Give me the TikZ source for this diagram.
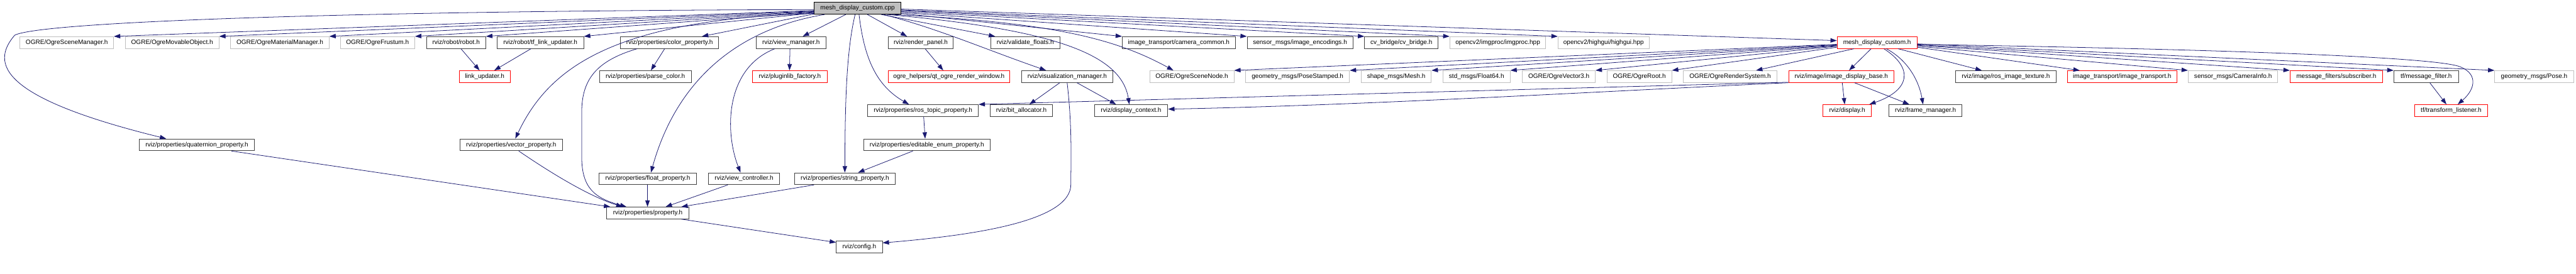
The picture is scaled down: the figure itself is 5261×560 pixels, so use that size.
\documentclass[tikz,border=0pt]{standalone}
\usepackage{fontspec}
\setmainfont{Liberation Sans}
\usetikzlibrary{arrows.meta,calc}
\definecolor{edgeblue}{HTML}{191970}
\definecolor{boxgray}{HTML}{BFBFBF}
\definecolor{boxdark}{HTML}{404040}
\newcommand\mknode[6]{\node[#2, minimum width={(#4-#3)*1pt}] (#1) at ({(#3+#4)/2},#5) {#6};}
\tikzset{
  basebox/.style={rectangle, inner sep=0pt, minimum height=24pt, line width=1.2pt,
    font=\fontsize{12.9}{15}\selectfont, text height=9.4pt, text depth=2.8pt},
  blkbox/.style={basebox, draw=boxdark},
  grybox/.style={basebox, draw=boxgray},
  redbox/.style={basebox, draw=red},
  rootbox/.style={basebox, draw=black, fill=boxgray},
  edge/.style={draw=edgeblue, line width=1pt, -{Triangle[length=13pt,width=9pt]}}
}
\begin{document}
\begin{tikzpicture}[x=1pt,y=-1pt]
\useasboundingbox (0,0) rectangle (5261,560);
% row 0
\mknode{root}{rootbox}{1663}{1840}{17}{mesh\_display\_custom.cpp}
% row 1
\mknode{sceneMgr}{grybox}{41}{232}{87}{OGRE/OgreSceneManager.h}
\mknode{movable}{grybox}{256}{447}{87}{OGRE/OgreMovableObject.h}
\mknode{material}{grybox}{471}{672}{87}{OGRE/OgreMaterialManager.h}
\mknode{frustum}{grybox}{695}{847}{87}{OGRE/OgreFrustum.h}
\mknode{robot}{blkbox}{871}{992}{87}{rviz/robot/robot.h}
\mknode{tflink}{blkbox}{1015}{1192}{87}{rviz/robot/tf\_link\_updater.h}
\mknode{colorprop}{blkbox}{1267}{1468}{87}{rviz/properties/color\_property.h}
\mknode{viewmgr}{blkbox}{1544}{1687}{87}{rviz/view\_manager.h}
\mknode{renderpanel}{blkbox}{1814}{1947}{87}{rviz/render\_panel.h}
\mknode{validate}{blkbox}{2023}{2165}{87}{rviz/validate\_floats.h}
\mknode{camcommon}{blkbox}{2292}{2523}{87}{image\_transport/camera\_common.h}
\mknode{imgenc}{blkbox}{2547}{2763}{87}{sensor\_msgs/image\_encodings.h}
\mknode{cvbridge}{blkbox}{2787}{2937}{87}{cv\_bridge/cv\_bridge.h}
\mknode{imgproc}{grybox}{2961}{3157}{87}{opencv2/imgproc/imgproc.hpp}
\mknode{highgui}{grybox}{3182}{3368}{87}{opencv2/highgui/highgui.hpp}
\mknode{mdch}{redbox}{3752}{3915}{87}{mesh\_display\_custom.h}
% row 2
\mknode{linkupd}{redbox}{938}{1042}{156.5}{link\_updater.h}
\mknode{parsecolor}{blkbox}{1224}{1412}{156.5}{rviz/properties/parse\_color.h}
\mknode{plugin}{redbox}{1537}{1689}{156.5}{rviz/pluginlib\_factory.h}
\mknode{qtogre}{redbox}{1814}{2062}{156.5}{ogre\_helpers/qt\_ogre\_render\_window.h}
\mknode{vismgr}{blkbox}{2086}{2273}{156.5}{rviz/visualization\_manager.h}
\mknode{scenenode}{grybox}{2348}{2520}{156.5}{OGRE/OgreSceneNode.h}
\mknode{posestamped}{grybox}{2544}{2756}{156.5}{geometry\_msgs/PoseStamped.h}
\mknode{mesh}{grybox}{2780}{2923}{156.5}{shape\_msgs/Mesh.h}
\mknode{float64}{grybox}{2947}{3084}{156.5}{std\_msgs/Float64.h}
\mknode{vector3}{grybox}{3109}{3258}{156.5}{OGRE/OgreVector3.h}
\mknode{ogreroot}{grybox}{3282}{3414}{156.5}{OGRE/OgreRoot.h}
\mknode{rendersys}{grybox}{3438}{3629}{156.5}{OGRE/OgreRenderSystem.h}
\mknode{imgbase}{redbox}{3653}{3868}{156.5}{rviz/image/image\_display\_base.h}
\mknode{rosimgtex}{blkbox}{3994}{4199}{156.5}{rviz/image/ros\_image\_texture.h}
\mknode{imgtrans}{redbox}{4222}{4446}{156.5}{image\_transport/image\_transport.h}
\mknode{caminfo}{grybox}{4469}{4652}{156.5}{sensor\_msgs/CameraInfo.h}
\mknode{subscriber}{redbox}{4677}{4866}{156.5}{message\_filters/subscriber.h}
\mknode{msgfilter}{blkbox}{4889}{5021}{156.5}{tf/message\_filter.h}
\mknode{pose}{grybox}{5095}{5256}{156.5}{geometry\_msgs/Pose.h}
% row 3
\mknode{rostopic}{blkbox}{1772}{1998}{226}{rviz/properties/ros\_topic\_property.h}
\mknode{bitalloc}{blkbox}{2022}{2150}{226}{rviz/bit\_allocator.h}
\mknode{dispctx}{blkbox}{2235}{2385}{226}{rviz/display\_context.h}
\mknode{display}{redbox}{3723}{3822}{226}{rviz/display.h}
\mknode{framemgr}{blkbox}{3858}{4007}{226}{rviz/frame\_manager.h}
\mknode{tflistener}{redbox}{4931}{5081}{226}{tf/transform\_listener.h}
% row 4
\mknode{quat}{blkbox}{285}{519}{296}{rviz/properties/quaternion\_property.h}
\mknode{vecprop}{blkbox}{939}{1149}{296}{rviz/properties/vector\_property.h}
\mknode{editenum}{blkbox}{1764}{2022}{296}{rviz/properties/editable\_enum\_property.h}
% row 5
\mknode{floatprop}{blkbox}{1223}{1423}{365.3}{rviz/properties/float\_property.h}
\mknode{viewctrl}{blkbox}{1447}{1592}{365.3}{rviz/view\_controller.h}
\mknode{stringprop}{blkbox}{1623}{1828}{365.3}{rviz/properties/string\_property.h}
% row 6
\mknode{property}{blkbox}{1239}{1407}{435.3}{rviz/properties/property.h}
% row 7
\mknode{config}{blkbox}{1708}{1802}{505}{rviz/config.h}

% ---- edges from root, left side
\draw[edge] ($(root.south west)+(0,-10)$) .. controls (700,22) and (80,45) .. (30,72)
   .. controls (-20,130) and (0,200) .. ($(quat.north west)+(55,0)$);
\draw[edge] ($(root.south west)+(0,-8)$) -- (sceneMgr.north east);
\draw[edge] ($(root.south west)+(0,-7)$) -- (movable.north east);
\draw[edge] ($(root.south west)+(0,-6)$) -- (material.north east);
\draw[edge] ($(root.south west)+(0,-5)$) -- (frustum.north east);
\draw[edge] ($(root.south west)+(0,-4)$) -- (robot.north east);
\draw[edge] ($(root.south west)+(0,-3)$) -- (tflink.north east);
\draw[edge] ($(root.south west)+(0,-2)$) .. controls (1250,40) and (1120,140) .. ($(vecprop.north west)+(114,0)$);
\draw[edge] ($(root.south west)+(0,-1)$) -- ($(colorprop.north east)+(-35,0)$);
\draw[edge] ($(root.south west)+(22,0)$) .. controls (1500,60) and (1380,170) .. ($(floatprop.north west)+(107,0)$);
\draw[edge] ($(root.south west)+(65,0)$) -- ($(viewmgr.north west)+(96,0)$);
\draw[edge] ($(root.south west)+(84,0)$) .. controls (1727,110) and (1726,230) .. ($(stringprop.north west)+(103,0)$);
\draw[edge] ($(root.south west)+(92,0)$) .. controls (1765,120) and (1790,175) .. ($(rostopic.north west)+(85,0)$);
\draw[edge] ($(root.south west)+(109,0)$) -- ($(renderpanel.north west)+(39,0)$);
\draw[edge] ($(root.south west)+(137,0)$) -- ($(validate.north west)+(10,0)$);
\draw[edge] ($(root.south west)+(142,0)$) .. controls (1920,60) and (2010,100) .. ($(vismgr.north west)+(51,0)$);
\draw[edge] ($(root.south west)+(149,0)$) .. controls (2150,60) and (2290,110) .. ($(dispctx.north west)+(72,0)$);
\draw[edge] ($(root.south west)+(157,0)$) .. controls (2150,45) and (2280,80) .. ($(scenenode.north west)+(49,0)$);
% root, right side
\draw[edge] ($(root.south east)+(0,-2)$) -- (camcommon.north west);
\draw[edge] ($(root.south east)+(0,-4)$) -- (imgenc.north west);
\draw[edge] ($(root.south east)+(0,-6)$) -- (cvbridge.north west);
\draw[edge] ($(root.south east)+(0,-8)$) -- (imgproc.north west);
\draw[edge] ($(root.south east)+(0,-9)$) -- (highgui.north west);
\draw[edge] ($(root.south east)+(0,-11)$) -- ($(mdch.west)+(0,-4)$);

% ---- robot / properties
\draw[edge] ($(robot.south west)+(71,0)$) -- ($(linkupd.north west)+(42,0)$);
\draw[edge] ($(tflink.south west)+(70,0)$) -- ($(linkupd.north west)+(72,0)$);
\draw[edge] ($(colorprop.south west)+(91,0)$) -- ($(parsecolor.north west)+(106,0)$);
\draw[edge] ($(colorprop.south west)+(35,0)$) .. controls (1215,125) and (1188,165) .. (1188,230)
   -- (1188,320) .. controls (1188,385) and (1215,405) .. ($(property.north west)+(41,0)$);
\draw[edge] ($(vecprop.south west)+(121,0)$) .. controls (1120,350) and (1200,400) .. ($(property.north west)+(33,0)$);
\draw[edge] ($(quat.south west)+(188,0)$) -- ($(property.north west)+(8,0)$);
\draw[edge] ($(floatprop.south west)+(100,0)$) -- ($(property.north west)+(84,0)$);
\draw[edge] ($(viewctrl.south west)+(40,0)$) -- ($(property.north west)+(121,0)$);
\draw[edge] ($(stringprop.south west)+(40,0)$) -- ($(property.north west)+(153,0)$);
\draw[edge] ($(property.south west)+(153,0)$) -- ($(config.north west)+(0,3)$);
\draw[edge] ($(viewmgr.south west)+(70,0)$) -- ($(plugin.north west)+(76,0)$);
\draw[edge] ($(viewmgr.south west)+(39,0)$) .. controls (1480,140) and (1480,270) .. ($(viewctrl.north west)+(66,0)$);
\draw[edge] ($(renderpanel.south west)+(76,0)$) -- ($(qtogre.north west)+(113,0)$);
\draw[edge] ($(rostopic.south west)+(115,0)$) -- ($(editenum.north west)+(126,0)$);
\draw[edge] ($(editenum.south west)+(101,0)$) -- ($(stringprop.north west)+(130,0)$);
\draw[edge] ($(vismgr.south west)+(79,0)$) -- ($(bitalloc.north west)+(81,0)$);
\draw[edge] ($(vismgr.south west)+(114,0)$) -- ($(dispctx.north west)+(45,0)$);
\draw[edge] ($(vismgr.south west)+(94,0)$) .. controls (2190,260) and (2187,330) .. (2187,377)
   .. controls (2187,450) and (2000,480) .. ($(config.north east)+(0,4)$);

% ---- mesh_display_custom.h
\draw[edge] ($(mdch.south west)+(0,-9)$) -- (scenenode.north east);
\draw[edge] ($(mdch.south west)+(0,-8)$) -- (posestamped.north east);
\draw[edge] ($(mdch.south west)+(0,-7)$) -- (mesh.north east);
\draw[edge] ($(mdch.south west)+(0,-6)$) -- (float64.north east);
\draw[edge] ($(mdch.south west)+(0,-5)$) -- (vector3.north east);
\draw[edge] ($(mdch.south west)+(0,-3)$) -- (ogreroot.north east);
\draw[edge] ($(mdch.south west)+(35,0)$) -- ($(rendersys.north west)+(149,0)$);
\draw[edge] ($(mdch.south west)+(70,0)$) -- ($(imgbase.north west)+(124,0)$);
\draw[edge] ($(mdch.south west)+(96,0)$) .. controls (3910,140) and (3900,185) .. ($(display.north east)+(-5,0)$);
\draw[edge] ($(mdch.south west)+(101,0)$) .. controls (3900,125) and (3920,170) .. ($(framemgr.north west)+(70,0)$);
\draw[edge] ($(mdch.south west)+(125,0)$) -- ($(rosimgtex.north west)+(54,0)$);
\draw[edge] ($(mdch.south east)+(0,-3)$) -- ($(imgtrans.north west)+(26,0)$);
\draw[edge] ($(mdch.south east)+(0,-5)$) -- (caminfo.north west);
\draw[edge] ($(mdch.south east)+(0,-7)$) -- (subscriber.north west);
\draw[edge] ($(mdch.south east)+(0,-8)$) -- (msgfilter.north west);
\draw[edge] ($(mdch.south east)+(0,-9)$) .. controls (4500,100) and (4950,115) .. (5020,135)
   .. controls (5060,148) and (5058,180) .. ($(tflistener.north west)+(89,0)$);
\draw[edge] ($(mdch.south east)+(0,-10)$) -- (pose.north west);

% ---- image_display_base
\draw[edge] ($(imgbase.south west)+(110,0)$) -- ($(display.north west)+(45,0)$);
\draw[edge] ($(imgbase.south west)+(135,0)$) -- ($(framemgr.north west)+(42,0)$);
\draw[edge] ($(imgbase.south west)+(0,-1)$) -- (rostopic.north east);
\draw[edge] (imgbase.south west) .. controls (3300,185) and (2800,215) .. ($(dispctx.east)+(0,-3)$);

% ---- tf
\draw[edge] ($(msgfilter.south west)+(74,0)$) -- ($(tflistener.north west)+(66,0)$);
\end{tikzpicture}
\end{document}
